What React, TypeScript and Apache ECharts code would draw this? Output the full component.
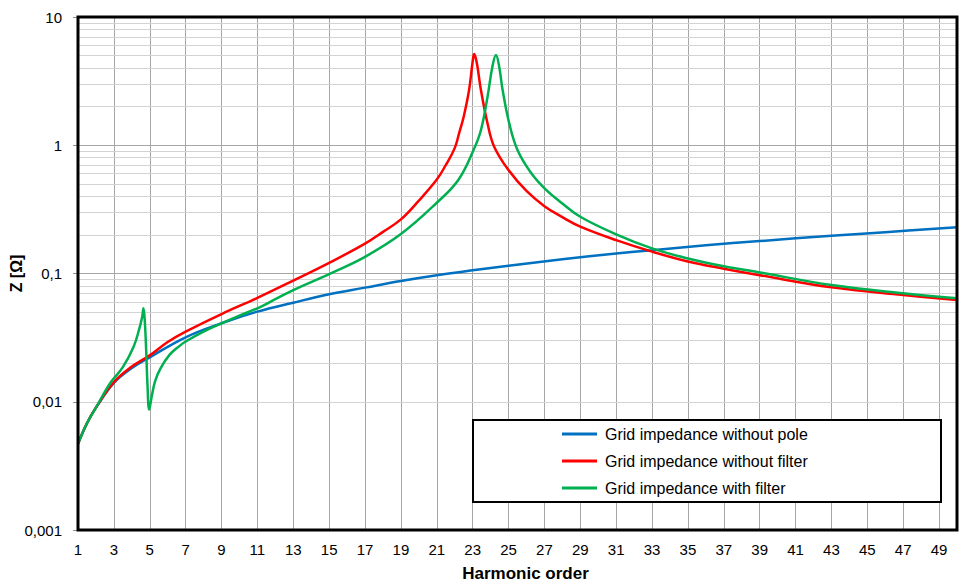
import React, { useEffect, useRef } from "react";
import * as echarts from "echarts";

// Harmonic orders and impedances
const H_POLE = [1, 1.5, 2, 3, 4, 5, 7, 9, 11, 13, 15, 17, 19, 21, 23, 25, 28, 31, 33, 36, 39, 43, 46, 50];
const Z_POLE = [0.0047, 0.0068, 0.009, 0.014, 0.0183, 0.0222, 0.0318, 0.0409, 0.0504, 0.0592, 0.0688, 0.0776, 0.0875, 0.097, 0.106, 0.115, 0.129, 0.143, 0.152, 0.166, 0.179, 0.197, 0.21, 0.229];

const H_NOFILTER = [1, 1.5, 2, 3, 4, 5, 6, 7, 9, 11, 13, 15, 17, 18, 19, 20, 21, 21.5, 22, 22.25, 22.5, 22.8, 23.0, 23.08, 23.17, 23.27, 23.46, 23.83, 24.2, 25, 26, 27, 28, 29, 31, 33, 35, 37, 39, 43, 47, 50];
const Z_NOFILTER = [0.0047, 0.0068, 0.009, 0.0142, 0.0188, 0.023, 0.0292, 0.0352, 0.0483, 0.0645, 0.088, 0.121, 0.171, 0.211, 0.264, 0.37, 0.54, 0.7, 0.95, 1.25, 1.67, 2.7, 4.5, 5.14, 4.8, 4.09, 2.7, 1.48, 0.975, 0.64, 0.44, 0.335, 0.275, 0.232, 0.182, 0.148, 0.124, 0.109, 0.097, 0.078, 0.068, 0.062];

const H_FILTER = [1, 1.5, 2, 2.8, 3.5, 4.1, 4.4, 4.58, 4.65, 4.72, 4.8, 4.87, 4.97, 5.12, 5.3, 5.6, 6.1, 6.7, 7, 8, 9, 10, 11, 12, 13, 15, 17, 19, 21, 22.2, 23.05, 23.46, 23.83, 24.1, 24.3, 24.48, 24.67, 25.04, 25.5, 26.25, 27.05, 28, 29, 31, 33, 35, 37, 39, 43, 47, 50];
const Z_FILTER = [0.0047, 0.0068, 0.009, 0.014, 0.0186, 0.0269, 0.0363, 0.046, 0.0536, 0.0434, 0.0253, 0.0139, 0.0087, 0.0112, 0.0145, 0.0182, 0.0232, 0.0275, 0.0295, 0.0352, 0.0409, 0.047, 0.0535, 0.063, 0.0743, 0.099, 0.135, 0.203, 0.356, 0.536, 0.918, 1.31, 2.39, 4.09, 5.06, 4.09, 2.7, 1.48, 0.918, 0.61, 0.455, 0.352, 0.277, 0.202, 0.157, 0.131, 0.114, 0.102, 0.0813, 0.07, 0.064];

const SERIES_NAMES = [
  "Grid impedance without pole",
  "Grid impedance without filter",
  "Grid impedance with filter",
];
const COLORS = ["#0070C0", "#FF0000", "#00B050"];

const X_MIN = 1;
const X_MAX = 50;
const X_STEP = 2;
const Y_MIN = 0.001;
const Y_MAX = 10;
const Y_DECADES = [0.001, 0.01, 0.1, 1];
const MINOR_MULT = [2, 3, 4, 5, 6, 7, 8, 9];

const FONT = '"Liberation Sans", Arial, sans-serif';

function pairs(h: number[], z: number[]) {
  return h.map((x, i) => [x, z[i]]);
}

export default function App() {
  const ref = useRef<HTMLDivElement>(null);

  useEffect(() => {
    const chart = echarts.init(ref.current!, null, { renderer: "svg" });
    const minor = Y_DECADES.flatMap((d) => MINOR_MULT.map((m) => +(d * m).toPrecision(3)));
    const datasets = [
      pairs(H_POLE, Z_POLE),
      pairs(H_NOFILTER, Z_NOFILTER),
      pairs(H_FILTER, Z_FILTER),
    ];

    const option: any = {
      animation: false,
      backgroundColor: "#ffffff",
      textStyle: { fontFamily: FONT },
      grid: {
        left: 78,
        right: 5,
        top: 17,
        bottom: 56,
        show: true,
        borderColor: "#000000",
        borderWidth: 3,
        z: 3,
        outerBoundsMode: "none",
        containLabel: false,
      },
      legend: {
        orient: "vertical",
        left: 562,
        top: 425,
        padding: 0,
        icon: "rect",
        itemWidth: 35,
        itemHeight: 3,
        itemGap: 9,
        data: SERIES_NAMES,
        textStyle: { fontSize: 16, lineHeight: 18, color: "#000", fontFamily: FONT, padding: [0, 0, 0, 3] },
        z: 5,
      },
      graphic: [
        {
          type: "rect",
          left: 472,
          top: 419,
          shape: { width: 468, height: 82 },
          style: { fill: "#ffffff", stroke: "#000000", lineWidth: 2 },
          z: 4,
          silent: true,
        },
      ],
      xAxis: {
        type: "value",
        min: X_MIN,
        max: X_MAX,
        interval: X_STEP,
        name: "Harmonic order",
        nameLocation: "middle",
        nameGap: 35,
        nameMoveOverlap: false,
        nameTextStyle: { fontSize: 17, fontWeight: "bold", color: "#000", fontFamily: FONT, padding: [0, 0, 0, 16] },
        axisLine: { show: false },
        axisTick: { show: false },
        axisLabel: { fontSize: 15, color: "#000", margin: 12, showMaxLabel: false, fontFamily: FONT },
        splitLine: { show: true, lineStyle: { color: "#a6a6a6", width: 1 } },
      },
      yAxis: {
        type: "log",
        logBase: 10,
        min: Y_MIN,
        max: Y_MAX,
        interval: 1,
        name: "Z [Ω]",
        nameLocation: "middle",
        nameGap: 54,
        nameMoveOverlap: false,
        nameRotate: 90,
        nameTextStyle: { fontSize: 16, fontWeight: "bold", color: "#000", fontFamily: FONT },
        axisLine: { show: false },
        axisTick: { show: true, length: 5, lineStyle: { color: "#909090" } },
        axisLabel: {
          fontSize: 15,
          color: "#000",
          margin: 16,
          fontFamily: FONT,
          formatter: (v: number) => String(+v.toPrecision(3)).replace(".", ","),
        },
        splitLine: { show: true, lineStyle: { color: "#a6a6a6", width: 1 } },
      },
      series: SERIES_NAMES.map((name, i) => ({
        name,
        type: "line",
        data: datasets[i],
        symbol: "none",
        showSymbol: false,
        smooth: 0.4,
        lineStyle: { color: COLORS[i], width: 2.5 },
        itemStyle: { color: COLORS[i] },
        emphasis: { disabled: true },
        z: 2,
        markLine:
          i === 0
            ? {
                silent: true,
                symbol: ["none", "none"],
                label: { show: false },
                lineStyle: { color: "#d3d3d3", width: 1, type: "solid" },
                emphasis: { disabled: true },
                z: 1,
                data: minor.map((v) => ({ yAxis: v })),
              }
            : undefined,
      })),
    };

    chart.setOption(option);
    return () => chart.dispose();
  }, []);

  return (
    <div
      ref={ref}
      style={{ position: "absolute", left: 0, top: 0, width: 962, height: 586, background: "#fff" }}
    />
  );
}
